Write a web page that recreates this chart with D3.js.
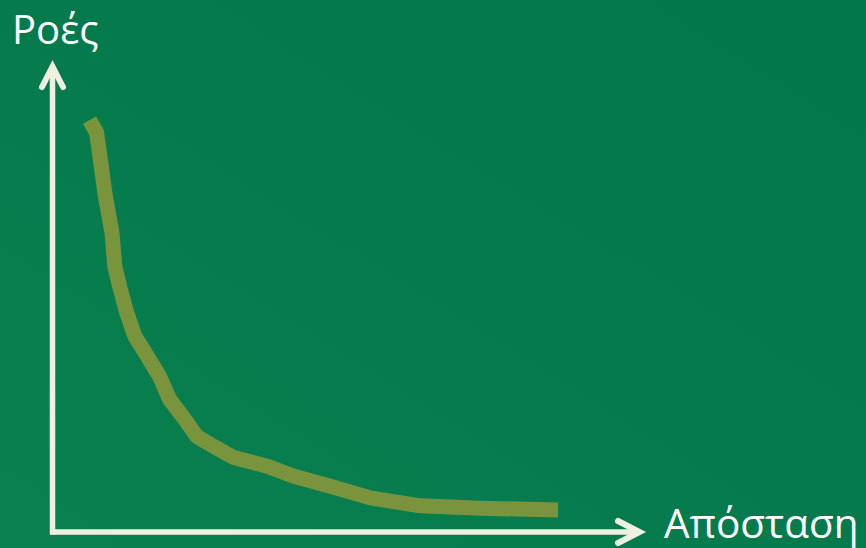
<!DOCTYPE html>
<html>
<head>
<meta charset="utf-8">
<script src="https://cdn.jsdelivr.net/npm/d3@7"></script>
<style>
  html, body { margin: 0; padding: 0; background: #027a4d; }
  svg { display: block; }
</style>
</head>
<body>
<div id="chart"></div>
<script>
// Distance (arbitrary units, 0-100) and flows (arbitrary units, 0-100)
const distance = [6.3, 7.5, 8.3, 8.9, 9.4, 10.1, 10.6, 11.4, 12.6, 14.0, 15.7, 18.2, 19.9, 22.5, 24.5, 27.3, 30.7, 36.5, 40.9, 47.2, 54.0, 62.5, 72.7, 85.9];
const flows    = [88.2, 85.5, 78.2, 72.6, 69.0, 64.1, 56.8, 52.6, 47.0, 41.9, 38.5, 33.3, 28.4, 24.1, 20.5, 18.4, 16.0, 14.1, 12.0, 9.8, 7.3, 5.6, 5.1, 4.7];
const yLabel = "Ροές";
const xLabel = "Απόσταση";

const W = 866, H = 548;
const svg = d3.select("#chart").append("svg").attr("width", W).attr("height", H);

const defs = svg.append("defs");
const grad = defs.append("linearGradient").attr("id", "bg")
  .attr("x1", "0%").attr("y1", "100%").attr("x2", "100%").attr("y2", "0%");
grad.append("stop").attr("offset", "0%").attr("stop-color", "#0a8050");
grad.append("stop").attr("offset", "100%").attr("stop-color", "#00764a");
svg.append("rect").attr("width", W).attr("height", H).attr("fill", "url(#bg)");

const x = d3.scaleLinear().domain([0, 100]).range([52.5, 641]);
const y = d3.scaleLinear().domain([0, 100]).range([532, 65]);

const axisColor = "#eef0e1";

// Axes lines
svg.append("line")
  .attr("x1", x(0)).attr("x2", x(0)).attr("y1", y(0) + 2.5).attr("y2", y(100) + 1)
  .attr("stroke", axisColor).attr("stroke-width", 5.5);
svg.append("line")
  .attr("x1", x(0) - 2.5).attr("x2", x(100) - 1).attr("y1", y(0)).attr("y2", y(0))
  .attr("stroke", axisColor).attr("stroke-width", 5.5);

// Arrowheads
svg.append("path")
  .attr("d", `M${x(0) - 10.5},${y(100) + 22} L${x(0)},${y(100) + 1.5} L${x(0) + 10.5},${y(100) + 22}`)
  .attr("fill", "none").attr("stroke", axisColor).attr("stroke-width", 6)
  .attr("stroke-linecap", "round").attr("stroke-linejoin", "miter");
svg.append("path")
  .attr("d", `M${x(100) - 23},${y(0) - 11} L${x(100) - 1.5},${y(0)} L${x(100) - 23},${y(0) + 11}`)
  .attr("fill", "none").attr("stroke", axisColor).attr("stroke-width", 6)
  .attr("stroke-linecap", "round").attr("stroke-linejoin", "miter");

// Curve
const pts = distance.map((d, i) => [d, flows[i]]);
const line = d3.line().x(d => x(d[0])).y(d => y(d[1]));
svg.append("path")
  .attr("d", line(pts))
  .attr("fill", "none").attr("stroke", "#7a943e").attr("stroke-width", 15)
  .attr("stroke-linejoin", "round").attr("stroke-linecap", "butt");

// Labels
svg.append("text")
  .attr("x", 12).attr("y", 44)
  .attr("font-family", "Open Sans, sans-serif").attr("font-size", 40)
  .attr("fill", "#ffffff").text(yLabel);
svg.append("text")
  .attr("x", 664).attr("y", 538)
  .attr("font-family", "Open Sans, sans-serif").attr("font-size", 40.5)
  .attr("fill", "#ffffff").text(xLabel);
</script>
</body>
</html>
